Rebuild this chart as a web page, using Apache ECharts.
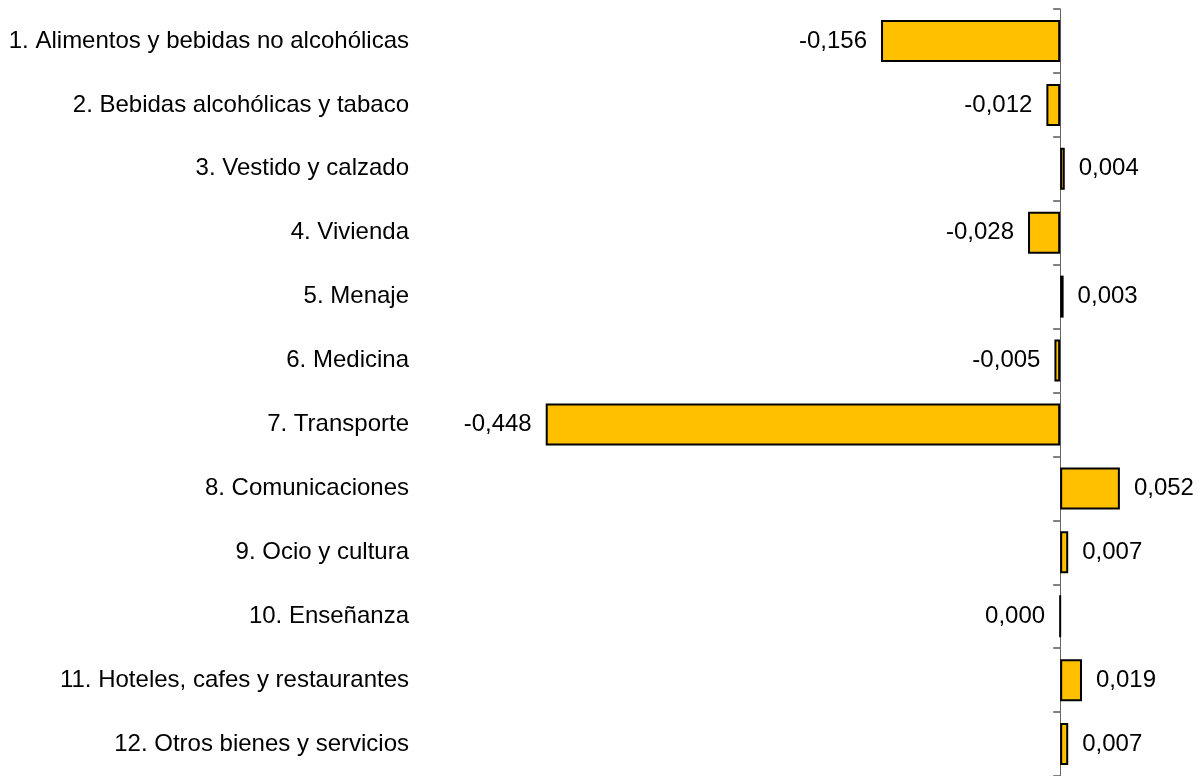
<!DOCTYPE html>
<html>
<head>
<meta charset="utf-8">
<script src="https://cdn.jsdelivr.net/npm/echarts@6/dist/echarts.min.js"></script>
<style>
  html, body { margin: 0; padding: 0; background: #fff; }
  #chart { width: 1199px; height: 776px; }
</style>
</head>
<body>
<div id="chart"></div>
<script>
var categories = [
  '1. Alimentos y bebidas no alcohólicas',
  '2. Bebidas alcohólicas y tabaco',
  '3. Vestido y calzado',
  '4. Vivienda',
  '5. Menaje',
  '6. Medicina',
  '7. Transporte',
  '8. Comunicaciones',
  '9. Ocio y cultura',
  '10. Enseñanza',
  '11. Hoteles, cafes y restaurantes',
  '12. Otros bienes y servicios'
];
var values = [-0.156, -0.012, 0.004, -0.028, 0.003, -0.005, -0.448, 0.052, 0.007, 0.000, 0.019, 0.007];

var chart = echarts.init(document.getElementById('chart'));

var fmt = function (v) {
  return v.toFixed(3).replace('.', ',');
};

chart.setOption({
  animation: false,
  textStyle: { fontFamily: 'Liberation Sans, Arial, sans-serif' },
  grid: { left: 486, right: 24, top: 9, bottom: 0 },
  xAxis: {
    type: 'value',
    min: -0.5,
    max: 0.1,
    show: false
  },
  yAxis: [
    {
      // category names on the left
      type: 'category',
      data: categories,
      inverse: true,
      axisLine: { show: false, onZero: false },
      axisTick: { show: false },
      axisLabel: { margin: 77, fontSize: 24, color: '#000' }
    },
    {
      // the zero line with ticks
      type: 'category',
      data: categories,
      inverse: true,
      position: 'left',
      axisLine: { show: true, onZero: true, lineStyle: { color: '#666', width: 1 } },
      axisTick: { show: true, length: 7, lineStyle: { color: '#808080', width: 2 } },
      axisLabel: { show: false }
    }
  ],
  series: [{
    type: 'bar',
    yAxisIndex: 0,
    barWidth: 42,
    itemStyle: { color: '#FFC000', borderColor: '#000', borderWidth: 2 },
    data: values.map(function (v) {
      return {
        value: v,
        label: {
          show: true,
          position: v > 0 ? 'right' : 'left',
          distance: 14,
          fontSize: 24,
          color: '#000',
          formatter: function (p) { return fmt(p.value); }
        }
      };
    })
  }]
});
</script>
</body>
</html>
